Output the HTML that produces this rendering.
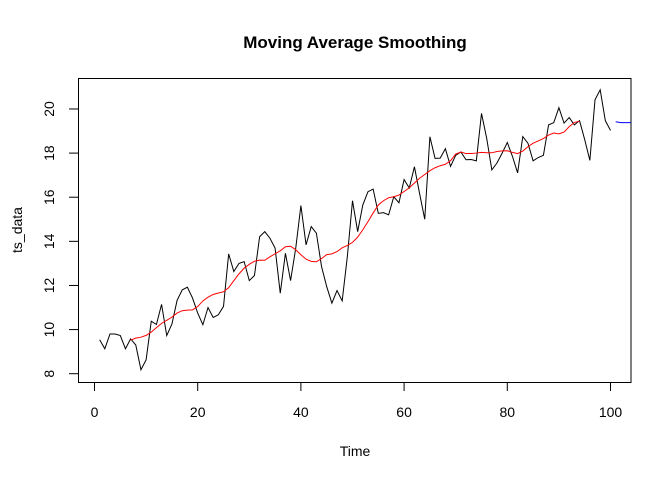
<!DOCTYPE html>
<html><head><meta charset="utf-8"><style>
html,body{margin:0;padding:0;background:#fff;}
svg{display:block;font-family:"Liberation Sans",Arial,sans-serif;}
</style></head><body>
<svg id="chart" width="672" height="480" viewBox="0 0 672 480">
<text x="355" y="48" text-anchor="middle" font-size="17" font-weight="bold">Moving Average Smoothing</text>
<text x="355" y="456" text-anchor="middle" font-size="14">Time</text>
<text transform="translate(22,230) rotate(-90)" text-anchor="middle" font-size="14">ts_data</text>
<rect x="78.5" y="78.5" width="552.5" height="304" fill="none" stroke="#000" stroke-width="1"/>
<g id="xaxis"></g>
<g id="yaxis"></g>
<svg x="78.5" y="78.5" width="552.5" height="304" overflow="hidden">
<g id="marks" transform="translate(-78.5,-78.5)"></g>
</svg>
</svg>
<script>
const tsValues = [9.54,9.13,9.8,9.8,9.73,9.13,9.58,9.3,8.18,8.63,10.38,10.23,11.14,9.73,10.25,11.32,11.8,11.92,11.43,10.75,10.22,11.0,10.55,10.67,11.05,13.43,12.63,13.0,13.08,12.22,12.45,14.21,14.44,14.14,13.69,11.65,13.46,12.22,13.69,15.62,13.84,14.67,14.37,12.86,11.95,11.2,11.77,11.3,13.31,15.84,14.44,15.65,16.25,16.37,15.27,15.3,15.2,16.02,15.75,16.8,16.42,17.38,16.17,15.0,18.74,17.76,17.77,18.2,17.4,17.9,18.05,17.7,17.71,17.65,19.8,18.68,17.24,17.55,18.0,18.48,17.85,17.1,18.75,18.45,17.65,17.8,17.9,19.28,19.38,20.06,19.36,19.61,19.28,19.47,18.61,17.67,20.42,20.87,19.47,19.03];
const forecastValues = [19.42,19.38,19.38,19.38,19.38,19.38];
const xTicks = [0,20,40,60,80,100];
const yTicks = [8,10,12,14,16,18,20];
const NS = "http://www.w3.org/2000/svg";
const xs = t => 94.5 + t * 5.16;
const ys = v => 373.7 - (v - 8) * 22.06;
function mk(tag, attrs, parent){const e=document.createElementNS(NS,tag);for(const k in attrs)e.setAttribute(k,attrs[k]);parent.appendChild(e);return e;}
const xa=document.getElementById('xaxis'), ya=document.getElementById('yaxis'), marks=document.getElementById('marks');
const xl=mk('line',{x1:xs(xTicks[0]),x2:xs(xTicks[xTicks.length-1]),y1:382.5,y2:382.5,stroke:'#000'},xa);


xTicks.forEach(t=>{
  const l=mk('line',{x1:xs(t),x2:xs(t),y1:382.5,y2:391,stroke:'#000'},xa);
  
  
  const tx=mk('text',{x:xs(t),y:417,'text-anchor':'middle','font-size':14},xa);tx.textContent=t;
  
  
});
const yl=mk('line',{x1:78.5,x2:78.5,y1:ys(yTicks[0]),y2:ys(yTicks[yTicks.length-1]),stroke:'#000'},ya);


yTicks.forEach(v=>{
  const l=mk('line',{x1:69,x2:78.5,y1:ys(v),y2:ys(v),stroke:'#000'},ya);
  
  
  const tx=mk('text',{transform:`translate(54,${ys(v)}) rotate(-90)`,'text-anchor':'middle','font-size':14},ya);tx.textContent=v;
  
  
});
// centered 2x12 moving average
const ma=[];
for(let i=6;i<tsValues.length-6;i++){
  let s=0.5*tsValues[i-6]+0.5*tsValues[i+6];
  for(let j=i-5;j<=i+5;j++)s+=tsValues[j];
  ma.push([i+1,s/12]);
}
const p1=mk('polyline',{points:tsValues.map((v,i)=>xs(i+1)+','+ys(v)).join(' '),fill:'none',stroke:'#000','stroke-width':1},marks);


const p2=mk('polyline',{points:ma.map(d=>xs(d[0])+','+ys(d[1])).join(' '),fill:'none',stroke:'#ff0000','stroke-width':1},marks);


const p3=mk('polyline',{points:forecastValues.map((v,i)=>xs(tsValues.length+1+i)+','+ys(v)).join(' '),fill:'none',stroke:'#0000ff','stroke-width':1},marks);


</script>
</body></html>
